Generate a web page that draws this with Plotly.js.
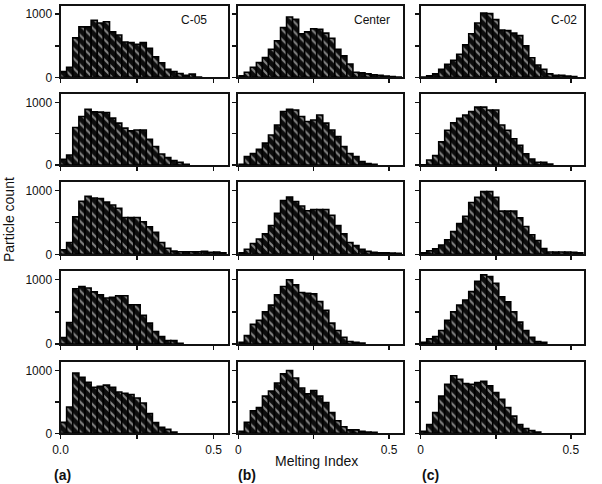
<!DOCTYPE html>
<html>
<head>
<meta charset="utf-8">
<script src="https://cdn.plot.ly/plotly-3.0.1.min.js"></script>
<style>html,body{margin:0;padding:0;background:#fff;}#chart{width:602px;height:484px;}</style>
</head>
<body>
<div id="chart"></div>
<script>
// Bin centers of the Melting Index histograms (bin width 0.02)
var binCenters = [0.01,0.03,0.05,0.07,0.09,0.11,0.13,0.15,0.17,0.19,0.21,0.23,0.25,0.27,0.29,0.31,0.33,0.35,0.37,0.39,0.41,0.43,0.45,0.47,0.49,0.51,0.53];

// Column (a): C-05, rows 1..5
var c05_1 = [90,160,625,800,800,905,860,880,720,670,560,550,525,550,460,325,230,125,90,60,30,50,5];
var c05_2 = [90,160,600,775,890,850,845,840,750,670,590,545,560,560,410,295,175,118,70,43,10];
var c05_3 = [70,185,585,830,905,880,870,815,770,720,575,575,575,510,430,345,185,95,50,40,40,40,40,45,30,35,25];
var c05_4 = [100,335,860,895,870,810,765,715,725,750,750,610,610,445,325,195,115,52,52,10];
var c05_5 = [175,420,965,895,815,735,750,770,735,660,640,620,565,485,315,170,95,63,20];

// Column (b): Center, rows 1..5
var center_1 = [25,80,160,235,315,445,580,790,955,920,690,720,770,760,700,620,445,340,210,80,70,55,40,30,20,10,5];
var center_2 = [10,135,185,250,350,480,640,855,890,880,775,695,720,800,670,560,455,295,185,135,55,25,10];
var center_3 = [25,80,170,240,320,450,640,840,895,825,755,680,700,700,700,610,450,320,185,135,80,45,30,25,25,20,15];
var center_4 = [25,130,305,370,500,605,765,895,1000,920,800,790,780,660,525,325,210,105,40,25,15];
var center_5 = [30,175,360,410,595,675,805,950,1005,885,725,630,685,595,490,330,200,105,55,55,30,20,15];

// Column (c): C-02, rows 1..5
var c02_1 = [5,25,55,125,205,270,365,515,690,860,1020,1010,915,750,740,700,660,500,310,195,125,55,30,30,20,10];
var c02_2 = [5,80,150,370,555,675,745,800,855,925,925,880,880,640,555,420,315,180,95,45,45,15];
var c02_3 = [25,55,85,145,225,355,480,595,810,890,980,980,890,675,675,675,570,435,305,215,90,35,35,35,35,30,25];
var c02_4 = [25,80,115,210,370,500,605,685,815,975,1075,1050,945,735,655,500,340,210,105,40,25];
var c02_5 = [30,140,330,595,785,920,865,795,785,810,830,760,650,545,410,275,140,75,45,20];

var panelLabels = ['C-05','Center','C-02'];
var columnLetters = ['(a)','(b)','(c)'];
var xTickText = [['0.0','','0.5'],['0','','0.5'],['0','','0.5']];
var yTickText = ['0','','1000'];

var columns = [
  [c05_1,c05_2,c05_3,c05_4,c05_5],
  [center_1,center_2,center_3,center_4,center_5],
  [c02_1,c02_2,c02_3,c02_4,c02_5]
];

var W = 602, H = 484;
var colPx = [[60.5,227.5],[238.3,402.7],[420.7,584.3]];
var rowPx = [[5.7,77.3],[94,165],[181.7,254.3],[271,344],[362.3,433.3]];
var FONT = 'Liberation Sans, Arial, Helvetica, sans-serif';

var data = [];
var layout = {
  width: W, height: H,
  margin: {l:0,r:0,t:0,b:0,pad:0},
  paper_bgcolor: '#fff', plot_bgcolor: '#fff',
  showlegend: false,
  bargap: 0,
  font: {family: FONT, color: '#111', size: 12},
  annotations: []
};

var idx = 0;
for (var c = 0; c < 3; c++) {
  for (var r = 0; r < 5; r++) {
    idx++;
    var vals = columns[c][r];
    var xa = 'x' + (idx === 1 ? '' : idx);
    var ya = 'y' + (idx === 1 ? '' : idx);
    data.push({
      type: 'bar',
      x: binCenters.slice(0, vals.length),
      y: vals,
      width: 0.02,
      xaxis: xa, yaxis: ya,
      marker: {
        color: '#0d0d0d',
        line: {color: '#000000', width: 1.6},
        pattern: {shape: '\\', fillmode: 'overlay', bgcolor: '#0d0d0d', fgcolor: '#ffffff', size: 7, solidity: 0.28}
      },
      hoverinfo: 'skip'
    });
    var xName = 'xaxis' + (idx === 1 ? '' : idx);
    var yName = 'yaxis' + (idx === 1 ? '' : idx);
    layout[xName] = {
      domain: [colPx[c][0]/W, colPx[c][1]/W],
      anchor: ya,
      range: [0, 0.545],
      tickvals: [0, 0.25, 0.5],
      ticktext: xTickText[c],
      showticklabels: r === 4,
      ticks: 'outside', ticklen: 4, tickwidth: 1.5, tickcolor: '#111',
      showline: true, mirror: true, linewidth: 2, linecolor: '#111',
      showgrid: false, zeroline: false, fixedrange: true,
      tickfont: {family: FONT, size: 12, color: '#111'}
    };
    layout[yName] = {
      domain: [1 - rowPx[r][1]/H, 1 - rowPx[r][0]/H],
      anchor: xa,
      range: [0, 1135],
      tickvals: [0, 500, 1000],
      ticktext: yTickText,
      showticklabels: c === 0,
      ticks: 'outside', ticklen: 4, tickwidth: 1.5, tickcolor: '#111',
      showline: true, mirror: true, linewidth: 2, linecolor: '#111',
      showgrid: false, zeroline: false, fixedrange: true,
      tickfont: {family: FONT, size: 12, color: '#111'}
    };
  }
}

// Panel labels in top row
var labelX = [194, 371.7, 564];
for (var c2 = 0; c2 < 3; c2++) {
  layout.annotations.push({
    text: panelLabels[c2], xref: 'paper', yref: 'paper',
    x: labelX[c2]/W, y: 1 - 20/H, xanchor: 'center', yanchor: 'middle',
    showarrow: false, font: {family: FONT, size: 12, color: '#111'}
  });
}
// Column letters
var letterX = [62, 247, 430];
for (var c3 = 0; c3 < 3; c3++) {
  layout.annotations.push({
    text: '<b>' + columnLetters[c3] + '</b>', xref: 'paper', yref: 'paper',
    x: letterX[c3]/W, y: 1 - 475/H, xanchor: 'center', yanchor: 'middle',
    showarrow: false, font: {family: FONT, size: 14, color: '#111'}
  });
}
// Axis titles
layout.annotations.push({
  text: 'Melting Index', xref: 'paper', yref: 'paper',
  x: 316.7/W, y: 1 - 461/H, xanchor: 'center', yanchor: 'middle',
  showarrow: false, font: {family: FONT, size: 14, color: '#111'}
});
layout.annotations.push({
  text: 'Particle count', xref: 'paper', yref: 'paper', textangle: -90,
  x: 9/W, y: 1 - 220/H, xanchor: 'center', yanchor: 'middle',
  showarrow: false, font: {family: FONT, size: 14, color: '#111'}
});

Plotly.newPlot('chart', data, layout, {displayModeBar: false, staticPlot: true});
</script>
</body>
</html>
